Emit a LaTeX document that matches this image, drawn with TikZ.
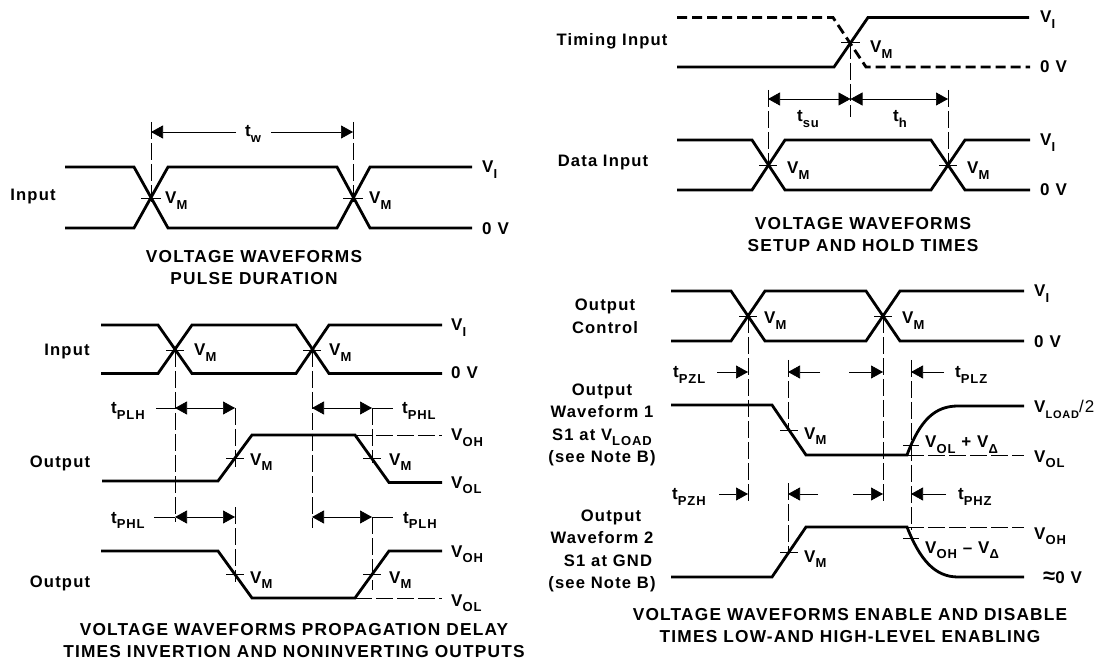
\documentclass[tikz,border=0pt]{standalone}
\usepackage{fontspec}
\setmainfont{Liberation Sans}[LetterSpace=7]
\usepackage{tikz}
\usetikzlibrary{arrows.meta}
\newcommand{\low}[1]{\raisebox{-0.3em}{\fontsize{13}{13}\selectfont #1}}
\tikzstyle{wave} = [line width=2.8pt]
\tikzstyle{dashwave} = [line width=2.8pt, dash pattern=on 10pt off 5pt]
\tikzstyle{guide} = [line width=0.7pt, dash pattern=on 17pt off 4pt]
\tikzstyle{crossbar} = [line width=0.7pt]
\tikzstyle{arrow} = [line width=0.7pt,-{Triangle[length=12pt,width=13pt]}]
\tikzstyle{both} = [line width=0.7pt,{Triangle[length=12pt,width=13pt]}-{Triangle[length=12pt,width=13pt]}]
\tikzstyle{rlabel} = [anchor=west, inner sep=0pt, text height=12pt, text depth=0pt, font=\fontsize{17}{20}\bfseries]
\tikzstyle{side} = [inner sep=0pt, align=center, font=\fontsize{16.6}{22.6}\bfseries]
\tikzstyle{title} = [inner sep=0pt, align=center, font=\fontsize{17.3}{22}\bfseries]

\begin{document}
\begin{tikzpicture}[x=1pt,y=-1pt]
\useasboundingbox (0,0) rectangle (1096,660);
% pulse duration
\draw [wave] (65,167) -- (134,167) -- (168,228) -- (337,228) -- (370,167) -- (472,167);
\draw [wave] (65,228) -- (134,228) -- (168,167) -- (337,167) -- (370,228) -- (472,228);
\coordinate (wl) at (151,132);
\coordinate (wr) at (353,132);
\coordinate (wlt) at (236,132);
\coordinate (wrt) at (271,132);
\node (tw) [rlabel, anchor=center] at (253,131) {t\low{w}};
\draw [arrow] (wlt) -- (wl);
\draw [arrow] (wrt) -- (wr);
\draw [guide] (151,122) -- (151,202);
\draw [guide] (353,122) -- (353,202);
\draw [crossbar] (141,198) -- (161,198);
\draw [crossbar] (343,198) -- (363,198);
\node (in1) [side] at (33,197) {Input};
\node (vm1) [rlabel] at (165,198) {V\low{M}};
\node (vm2) [rlabel] at (369,198) {V\low{M}};
\node (vi1) [rlabel] at (482,167) {V\low{I}};
\node (gnd1) [rlabel] at (482,229) {0 V};
\node (tit1) [title] at (254,268) {VOLTAGE WAVEFORMS\\PULSE DURATION};
% propagation delay
\draw [wave] (101,325) -- (158,325) -- (192,373.5) -- (296,373.5) -- (329,325) -- (442,325);
\draw [wave] (101,373.5) -- (158,373.5) -- (192,325) -- (296,325) -- (329,373.5) -- (442,373.5);
\draw [crossbar] (166,350) -- (184,350);
\draw [crossbar] (303,350) -- (321,350);
\node (in2) [side] at (67,352) {Input};
\node (vm3) [rlabel] at (194,350) {V\low{M}};
\node (vm4) [rlabel] at (329,350) {V\low{M}};
\node (vi2) [rlabel] at (451,325) {V\low{I}};
\node (gnd2) [rlabel] at (451,373) {0 V};
\draw [guide] (175,350) -- (175,522);
\draw [guide] (312,350) -- (312,528);
\draw [guide] (235,408) -- (235,467);
\draw [guide] (235,507) -- (235,582);
\draw [guide] (372,408) -- (372,463);
\draw [guide] (372,517) -- (372,590);
\coordinate (lha) at (175,408);
\coordinate (lhb) at (235,408);
\coordinate (hla) at (312,408);
\coordinate (hlb) at (372,408);
\coordinate (lhc) at (175,517);
\coordinate (lhd) at (235,517);
\coordinate (hlc) at (312,517);
\coordinate (hld) at (372,517);
\draw [both] (lha) -- (lhb);
\draw [both] (hla) -- (hlb);
\draw [both] (lhc) -- (lhd);
\draw [both] (hlc) -- (hld);
\draw [crossbar] (156,408) -- (lha);
\draw [crossbar] (hlb) -- (393,408);
\draw [crossbar] (154,517) -- (lhc);
\draw [crossbar] (hld) -- (393,517);
\node (plh1) [rlabel] at (111,408) {t\low{PLH}};
\node (phl1) [rlabel] at (402,408) {t\low{PHL}};
\node (phl2) [rlabel] at (111,517) {t\low{PHL}};
\node (plh2) [rlabel] at (403,517) {t\low{PLH}};
\draw [wave] (102,481) -- (218,481) -- (252,435) -- (355,435) -- (389,482.5) -- (442,482.5);
\draw [guide] (355,435) -- (442,435);
\draw [crossbar] (226,458) -- (244,458);
\draw [crossbar] (363,458) -- (381,458);
\node (out1) [side] at (60,463) {Output};
\node (vm5) [rlabel] at (250,459) {V\low{M}};
\node (vm6) [rlabel] at (389,459) {V\low{M}};
\node (voh1) [rlabel] at (451,435) {V\low{OH}};
\node (vol1) [rlabel] at (451,482) {V\low{OL}};
\draw [wave] (101,551) -- (218,551) -- (252,598) -- (355,598) -- (389,551) -- (442,551);
\draw [guide] (355,598) -- (442,598);
\draw [crossbar] (226,574) -- (244,574);
\draw [crossbar] (363,574) -- (381,574);
\node (out2) [side] at (60,583) {Output};
\node (vm7) [rlabel] at (250,577) {V\low{M}};
\node (vm8) [rlabel] at (389,577) {V\low{M}};
\node (voh2) [rlabel] at (451,551) {V\low{OH}};
\node (vol2) [rlabel] at (451,600) {V\low{OL}};
\node (tit2) [title] at (294,641) {VOLTAGE WAVEFORMS PROPAGATION DELAY\\TIMES INVERTION AND NONINVERTING OUTPUTS};
% setup and hold
\draw [dashwave] (677,17.5) -- (833,17.5) -- (866,67) -- (1030,67);
\draw [wave] (677,67) -- (834,67) -- (868,17.5) -- (1029,17.5);
\draw [crossbar] (841,42) -- (860,42);
\draw [guide] (850.5,42) -- (850.5,117);
\node (ti) [side] at (612,41) {Timing Input};
\node (vm9) [rlabel] at (870,47) {V\low{M}};
\node (vi3) [rlabel] at (1040,17) {V\low{I}};
\node (gnd3) [rlabel] at (1040,67) {0 V};
\coordinate (sua) at (768,99);
\coordinate (sub) at (850.5,99);
\coordinate (hoa) at (948,99);
\draw [both] (sua) -- (sub);
\draw [both] (sub) -- (hoa);
\draw [guide] (768,90) -- (768,165);
\draw [guide] (948,90) -- (948,165);
\node (tsu) [rlabel, anchor=center] at (808,116) {t\low{su}};
\node (th) [rlabel, anchor=center] at (900,116) {t\low{h}};
\draw [wave] (677,140) -- (752,140) -- (785,190) -- (931,190) -- (965,140) -- (1030,140);
\draw [wave] (677,190) -- (752,190) -- (785,140) -- (931,140) -- (965,190) -- (1030,190);
\draw [crossbar] (759,165) -- (777,165);
\draw [crossbar] (939,165) -- (957,165);
\node (di) [side] at (603,163) {Data Input};
\node (vm10) [rlabel] at (787,168) {V\low{M}};
\node (vm11) [rlabel] at (967,168) {V\low{M}};
\node (vi4) [rlabel] at (1040,140) {V\low{I}};
\node (gnd4) [rlabel] at (1040,190) {0 V};
\node (tit3) [title] at (863,235) {VOLTAGE WAVEFORMS\\SETUP AND HOLD TIMES};
% enable and disable
\draw [wave] (671,291) -- (731,291) -- (765,341) -- (866,341) -- (900,291) -- (1024,291);
\draw [wave] (671,341) -- (731,341) -- (765,291) -- (866,291) -- (900,341) -- (1024,341);
\draw [crossbar] (739,316) -- (757,316);
\draw [crossbar] (874,316) -- (892,316);
\node (oc) [side] at (605,316) {Output\\Control};
\node (vm12) [rlabel] at (764,318) {V\low{M}};
\node (vm13) [rlabel] at (902,318) {V\low{M}};
\node (vi5) [rlabel] at (1034,291) {V\low{I}};
\node (gnd5) [rlabel] at (1034,342) {0 V};
\draw [guide] (748,316) -- (748,503);
\draw [guide] (883,316) -- (883,503);
\draw [guide] (788,360) -- (788,430);
\draw [guide] (788,483) -- (788,552);
\draw [guide] (911,360) -- (911,530);
\coordinate (zla) at (748,372);
\coordinate (zlb) at (788,372);
\coordinate (zlc) at (883,372);
\coordinate (zld) at (911,372);
\coordinate (zha) at (748,494);
\coordinate (zhb) at (788,494);
\coordinate (zhc) at (883,494);
\coordinate (zhd) at (911,494);
\coordinate (lta) at (717,372);
\coordinate (ltb) at (820,372);
\coordinate (ltc) at (849,372);
\coordinate (ltd) at (944,372);
\coordinate (hta) at (719,494);
\coordinate (htb) at (818,494);
\coordinate (htc) at (853,494);
\coordinate (htd) at (946,494);
\draw [arrow] (lta) -- (zla);
\draw [arrow] (ltb) -- (zlb);
\draw [arrow] (ltc) -- (zlc);
\draw [arrow] (ltd) -- (zld);
\draw [arrow] (hta) -- (zha);
\draw [arrow] (htb) -- (zhb);
\draw [arrow] (htc) -- (zhc);
\draw [arrow] (htd) -- (zhd);
\node (pzl) [rlabel] at (673,372) {t\low{PZL}};
\node (plz) [rlabel] at (955,372) {t\low{PLZ}};
\node (pzh) [rlabel] at (672,494) {t\low{PZH}};
\node (phz) [rlabel] at (958,494) {t\low{PHZ}};
\draw [wave] (671,405) -- (772,405) -- (806,455) -- (907,455) .. controls (920,420) and (935,406) .. (958,406) -- (1024,406);
\draw [guide] (907,455) -- (1024,455);
\draw [crossbar] (780,430) -- (798,430);
\draw [crossbar] (903,445) -- (919,445);
\node (wf1) [side] at (602,425) {Output\\Waveform 1\\S1 at V\low{LOAD}\\(see Note B)};
\node (vm14) [rlabel] at (804,433) {V\low{M}};
\node (vd1) [rlabel] at (925,442) {V\low{OL} + V\low{Δ}};
\node (vload) [rlabel] at (1034,407) {V\raisebox{-0.3em}{\fontsize{11}{11}\selectfont LOAD}\mdseries /2};
\node (vol3) [rlabel] at (1034,456) {V\low{OL}};
\draw [wave] (671,577) -- (772,577) -- (806,527) -- (907,527) .. controls (920,560) and (935,577) .. (958,577) -- (1024,577);
\draw [guide] (907,527) -- (1024,527);
\draw [crossbar] (780,552) -- (798,552);
\draw [crossbar] (903,538) -- (919,538);
\node (wf2) [side] at (602,551) {\hspace*{18pt}Output\\Waveform 2\\\hspace*{12pt}S1 at GND\\(see Note B)};
\node (vm15) [rlabel] at (804,556) {V\low{M}};
\node (vd2) [rlabel] at (925,547) {V\low{OH} – V\low{Δ}};
\node (voh3) [rlabel] at (1034,533) {V\low{OH}};
\node (zero) [rlabel] at (1043,577) {{\fontsize{22}{22}\selectfont ≈}0 V};
\node (tit4) [title] at (850,626) {VOLTAGE WAVEFORMS ENABLE AND DISABLE\\TIMES LOW-AND HIGH-LEVEL ENABLING};
\end{tikzpicture}
\end{document}
